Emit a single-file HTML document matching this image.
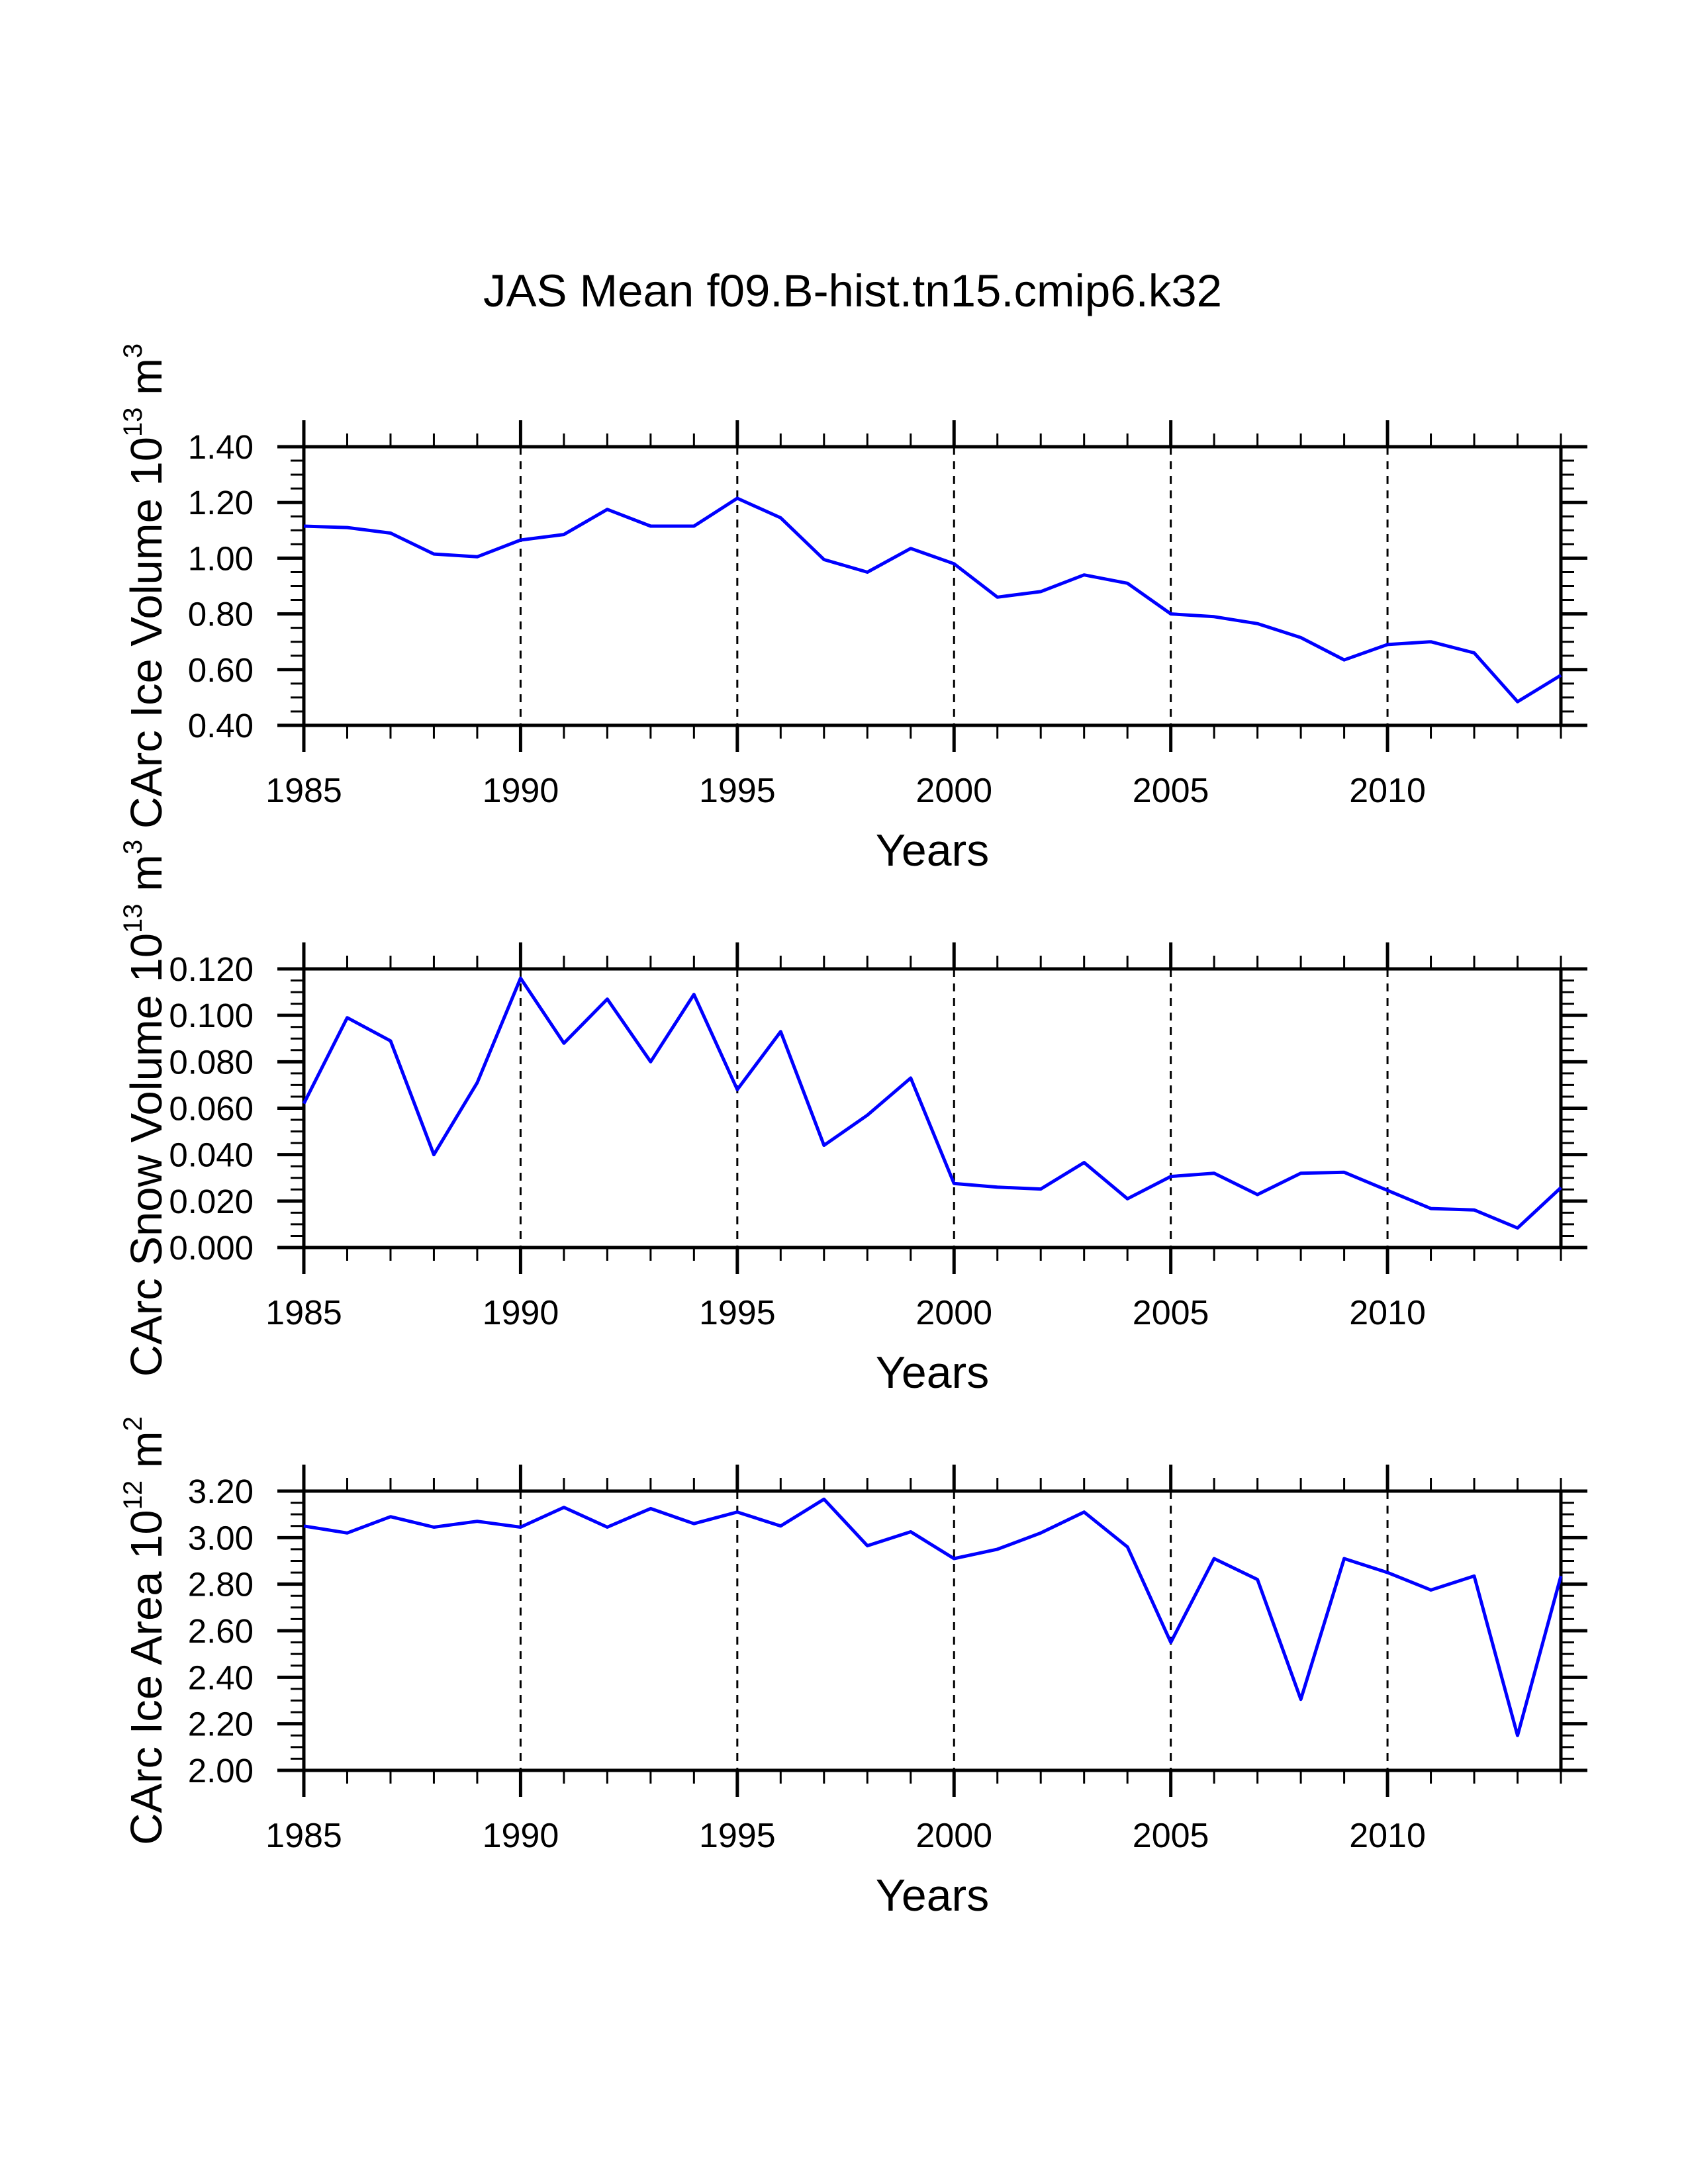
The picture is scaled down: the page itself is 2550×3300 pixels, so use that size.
<!DOCTYPE html>
<html><head><meta charset="utf-8">
<style>
html,body{margin:0;padding:0;background:#fff;}
svg{display:block;font-family:"Liberation Sans",sans-serif;}
</style></head>
<body>
<svg id="chart" width="2550" height="3300" viewBox="0 0 2550 3300" xmlns="http://www.w3.org/2000/svg">
<rect width="2550" height="3300" fill="#fff"/>
<text x="1288" y="463" font-size="69" text-anchor="middle">JAS Mean f09.B-hist.tn15.cmip6.k32</text>
<g id="panels"></g>
</svg>
<script>
const years = [1985,1986,1987,1988,1989,1990,1991,1992,1993,1994,1995,1996,1997,1998,1999,2000,2001,2002,2003,2004,2005,2006,2007,2008,2009,2010,2011,2012,2013,2014];
const iceVolume = [1.115,1.11,1.09,1.015,1.005,1.065,1.085,1.175,1.115,1.115,1.215,1.145,0.995,0.95,1.035,0.98,0.86,0.88,0.94,0.91,0.80,0.79,0.765,0.715,0.635,0.69,0.70,0.66,0.485,0.58];
const snowVolume = [0.062,0.099,0.089,0.040,0.071,0.116,0.088,0.107,0.080,0.109,0.068,0.093,0.044,0.057,0.073,0.0276,0.026,0.0252,0.0366,0.021,0.0306,0.032,0.0228,0.032,0.0324,0.0246,0.0168,0.0162,0.0084,0.0258];
const iceArea = [3.05,3.02,3.09,3.045,3.07,3.045,3.13,3.045,3.125,3.06,3.11,3.05,3.165,2.965,3.025,2.91,2.95,3.02,3.11,2.96,2.55,2.91,2.82,2.305,2.91,2.85,2.775,2.835,2.15,2.835];
const iceVolTicks = ["0.40","0.60","0.80","1.00","1.20","1.40"];
const snowTicks = ["0.000","0.020","0.040","0.060","0.080","0.100","0.120"];
const areaTicks = ["2.00","2.20","2.40","2.60","2.80","3.00","3.20"];
const xTickLabels = ["1985","1990","1995","2000","2005","2010"];

const NS = "http://www.w3.org/2000/svg";
const root = document.getElementById('panels');
const X0 = 459, X1 = 2358, YR0 = 1985, YR1 = 2014;
function xs(yr){ return X0 + (yr - YR0) * (X1 - X0) / (YR1 - YR0); }
function mk(tag, attrs, parent){
  const e = document.createElementNS(NS, tag);
  for (const k in attrs) e.setAttribute(k, attrs[k]);
  parent.appendChild(e); return e;
}
const panels = [
  {name:'ice-volume', top:675, bot:1096, ticks:iceVolTicks, data:iceVolume, t1:"CArc Ice Volume 10", sup1:"13", t2:" m", sup2:"3"},
  {name:'snow-volume', top:1464, bot:1885, ticks:snowTicks, data:snowVolume, t1:"CArc Snow Volume 10", sup1:"13", t2:" m", sup2:"3"},
  {name:'ice-area', top:2253, bot:2675, ticks:areaTicks, data:iceArea, t1:"CArc Ice Area 10", sup1:"12", t2:" m", sup2:"2"}
];
panels.forEach(p => {
  const g = mk('g', {}, root);
  
  
  const vmin = parseFloat(p.ticks[0]), vmax = parseFloat(p.ticks[p.ticks.length-1]);
  const ys = v => p.bot - (v - vmin) * (p.bot - p.top) / (vmax - vmin);
  for (let yr = 1990; yr <= 2010; yr += 5) {
    const l = mk('line', {x1:xs(yr), x2:xs(yr), y1:p.top, y2:p.bot, stroke:'#000','stroke-width':3,'stroke-dasharray':'12,10'}, g);
    
    
  }
  for (let yr = YR0; yr <= YR1; yr++) {
    const major = (yr % 5 === 0);
    const len = major ? 40 : 20, w = major ? 5 : 3;
    mk('line', {x1:xs(yr), x2:xs(yr), y1:p.bot, y2:p.bot+len, stroke:'#000','stroke-width':w}, g);
    mk('line', {x1:xs(yr), x2:xs(yr), y1:p.top, y2:p.top-len, stroke:'#000','stroke-width':w}, g);
  }
  xTickLabels.forEach(s => {
    const t = mk('text', {x:xs(+s), y:p.bot+116, 'font-size':52, 'text-anchor':'middle'}, g);
    t.textContent = s;
    
    
  });
  const step = (vmax - vmin) / (p.ticks.length - 1);
  for (let i = 0; i <= (p.ticks.length - 1) * 4; i++) {
    const v = vmin + i * step / 4, y = ys(v);
    const major = (i % 4 === 0);
    const len = major ? 40 : 20, w = major ? 5 : 3;
    mk('line', {x1:X0-len, x2:X0, y1:y, y2:y, stroke:'#000','stroke-width':w}, g);
    mk('line', {x1:X1, x2:X1+len, y1:y, y2:y, stroke:'#000','stroke-width':w}, g);
  }
  p.ticks.forEach(s => {
    const t = mk('text', {x:383, y:ys(parseFloat(s))+18, 'font-size':51, 'text-anchor':'end'}, g);
    t.textContent = s;
    
    
  });
  const fr = mk('rect', {x:X0, y:p.top, width:X1-X0, height:p.bot-p.top, fill:'none', stroke:'#000','stroke-width':5}, g);
  
  
  const pts = years.map((yr, i) => xs(yr).toFixed(1) + ',' + ys(p.data[i]).toFixed(1)).join(' ');
  const pl = mk('polyline', {points:pts, fill:'none', stroke:'#0000ff','stroke-width':5,'stroke-linejoin':'round'}, g);
  
  
  const xt = mk('text', {x:(X0+X1)/2, y:p.bot+212, 'font-size':68, 'text-anchor':'middle'}, g);
  xt.textContent = 'Years';
  
  
  const cy = (p.top + p.bot) / 2;
  const yt = mk('text', {x:0, y:0, 'font-size':67, 'text-anchor':'middle', transform:'translate(244,'+cy+') rotate(-90)'}, g);
  
  
  const a = mk('tspan', {}, yt); a.textContent = p.t1;
  const b = mk('tspan', {dy:-30, 'font-size':40}, yt); b.textContent = p.sup1;
  const c = mk('tspan', {dy:30}, yt); c.textContent = p.t2;
  const d = mk('tspan', {dy:-30, 'font-size':40}, yt); d.textContent = p.sup2;
});
</script>
</body></html>
